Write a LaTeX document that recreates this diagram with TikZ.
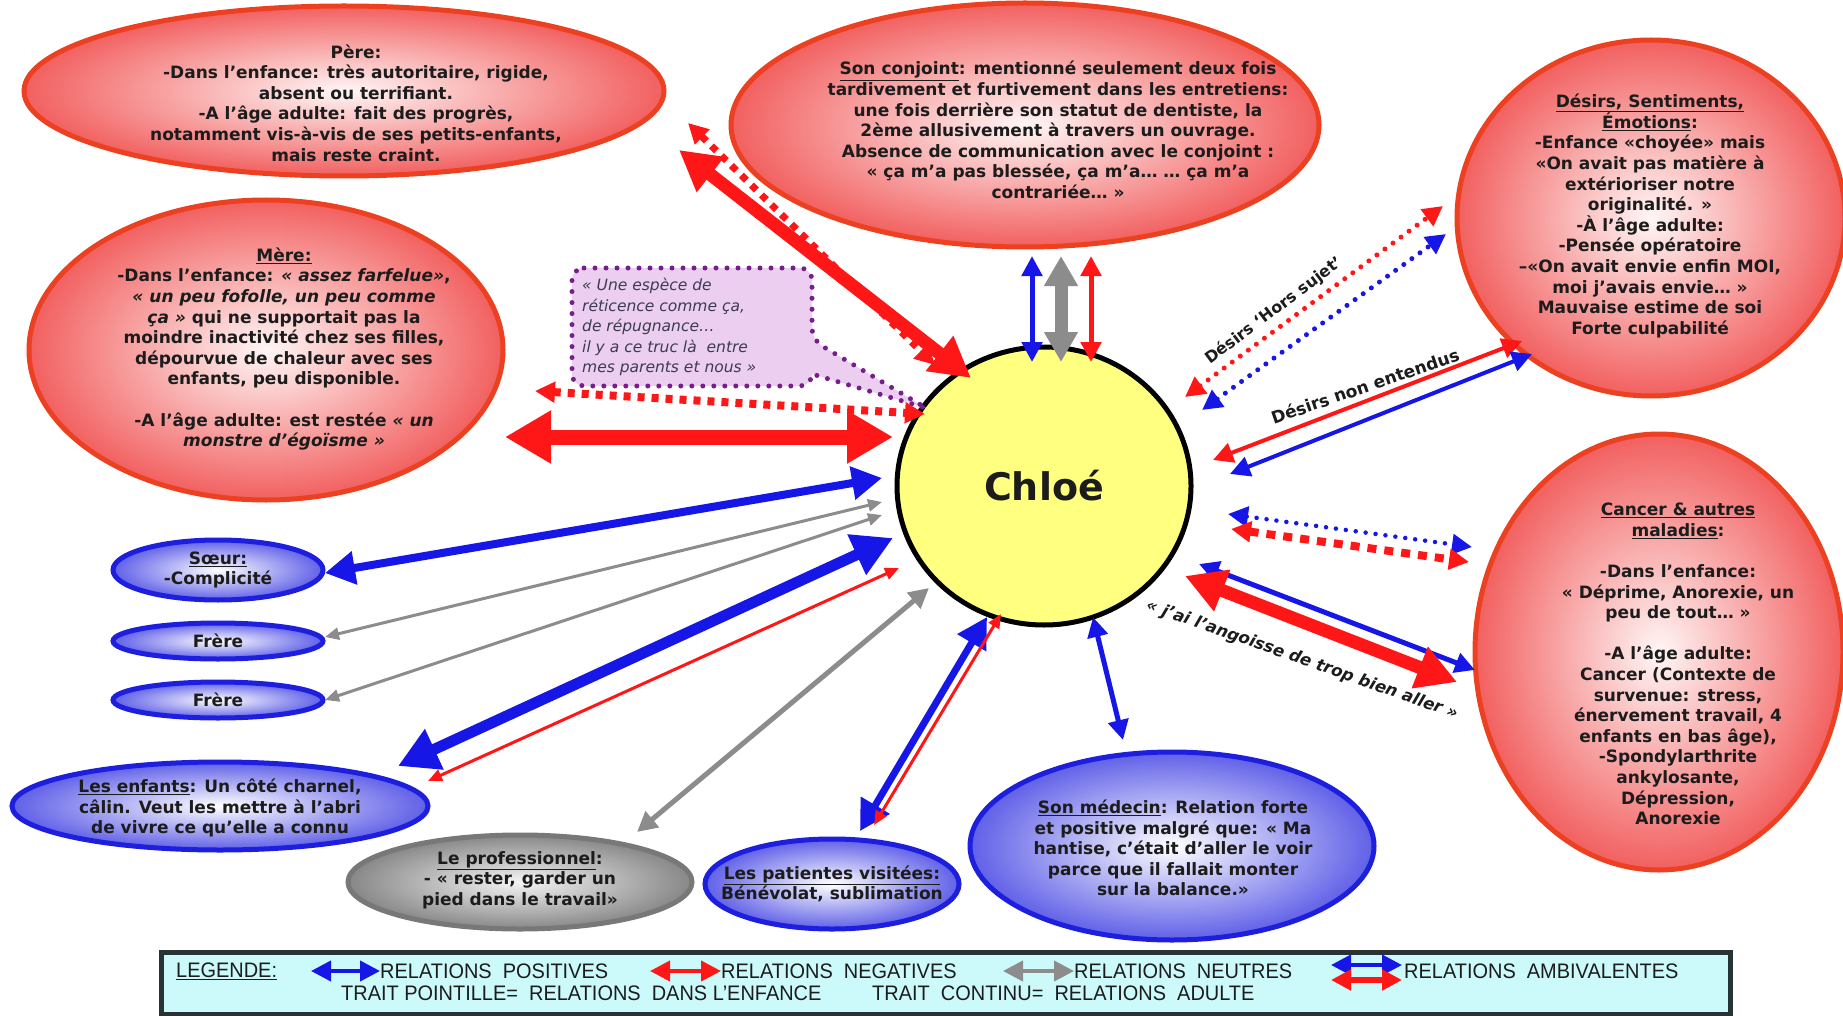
\documentclass[tikz,border=0pt]{standalone}
\usepackage{fontspec}
\setmainfont{DejaVu Sans}
\newfontfamily\legfont[FakeStretch=0.95]{Liberation Sans}
\usetikzlibrary{shapes.geometric,arrows.meta,calc}

\definecolor{arrred}{RGB}{255,22,22}
\definecolor{arrblue}{RGB}{22,22,230}
\definecolor{arrgray}{RGB}{140,140,140}
\definecolor{redborder}{RGB}{236,64,32}
\definecolor{redfill}{RGB}{242,96,96}
\definecolor{pinkfill}{RGB}{255,246,246}
\definecolor{blueborder}{RGB}{30,30,222}
\definecolor{bluefill}{RGB}{96,96,232}
\definecolor{grayborder}{RGB}{120,120,120}
\definecolor{grayfill}{RGB}{135,135,135}
\definecolor{grayin}{RGB}{245,245,245}
\definecolor{chloefill}{RGB}{255,255,128}
\definecolor{quotefill}{RGB}{236,206,240}
\definecolor{quoteborder}{RGB}{120,30,140}
\definecolor{quotetext}{RGB}{60,60,80}
\definecolor{legfill}{RGB}{204,250,250}
\definecolor{legborder}{RGB}{40,52,52}
\definecolor{txtcol}{RGB}{28,28,28}

\begin{document}
\begin{tikzpicture}[x=1pt,y=-1pt,
  ell/.style={ellipse, inner sep=0pt, line width=5pt},
  redell/.style={ell, draw=redborder, inner color=pinkfill, outer color=redfill},
  blueell/.style={ell, draw=blueborder, inner color=white, outer color=bluefill},
  grayell/.style={ell, draw=grayborder, inner color=grayin, outer color=grayfill},
  txt/.style={font=\bfseries\fontsize{17}{20.6}\selectfont, align=center, text=txtcol, inner sep=0pt},
  lbl/.style={font=\bfseries\fontsize{16}{18}\selectfont, text=txtcol, inner sep=0pt},
  legtxt/.style={font=\legfont\fontsize{21}{22}\selectfont, text=txtcol, inner sep=0pt, anchor=west},
  redarr/.style={draw=arrred},
  bluearr/.style={draw=arrblue},
  grayarr/.style={draw=arrgray},
  tXL/.style={<->, >={Triangle[length=46pt,width=50pt]}},
  tL/.style={<->, >={Triangle[length=40pt,width=42pt]}},
  tM/.style={<->, >={Triangle[length=30pt,width=32pt]}},
  tS/.style={<->, >={Triangle[length=20pt,width=20pt]}},
  tXS/.style={<->, >={Triangle[length=14pt,width=12pt]}},
  dotsq/.style={dash pattern=on 7pt off 7pt},
  dotrnd/.style={line cap=round, dash pattern=on 0pt off 10pt}
]
\useasboundingbox (0,0) rectangle (1843,1016);
\fill[white] (0,0) rectangle (1843,1016);

% ---------- ellipses ----------
\node[redell, minimum width=640pt, minimum height=170pt] (pere) at (344,91) {};
\node[redell, minimum width=588pt, minimum height=244pt] (conj) at (1025,125) {};
\node[redell, minimum width=388pt, minimum height=356pt] (desirs) at (1651,218) {};
\node[redell, minimum width=474pt, minimum height=300pt] (mere) at (266,350) {};
\node[redell, minimum width=368pt, minimum height=436pt] (cancer) at (1659,652) {};
\node[blueell, minimum width=210pt, minimum height=60pt] (soeur) at (218,570) {};
\node[blueell, minimum width=210pt, minimum height=36pt] (frere1) at (218,641) {};
\node[blueell, minimum width=210pt, minimum height=36pt] (frere2) at (218,700) {};
\node[blueell, minimum width=416pt, minimum height=88pt] (enfants) at (220,806) {};
\node[grayell, minimum width=344pt, minimum height=94pt] (prof) at (520,882) {};
\node[blueell, minimum width=254pt, minimum height=90pt] (patientes) at (832,884) {};
\node[blueell, minimum width=404pt, minimum height=188pt] (medecin) at (1172,846) {};
\node[ellipse, draw=black, line width=5pt, fill=chloefill, inner sep=0pt,
      minimum width=294pt, minimum height=278pt,
      font=\bfseries\fontsize{38}{40}\selectfont, text=txtcol] (chloe) at (1044,486) {Chloé};

% ---------- callout ----------
\path[draw=quoteborder, fill=quotefill, line width=5pt, line cap=round,
      dash pattern=on 0pt off 11pt, rounded corners=12pt]
  (572,268) -- (812,268) -- (812,340) [sharp corners] -- (926,408) -- (812,374)
  [rounded corners=12pt] -- (812,386) -- (572,386) -- cycle;
\node[font=\itshape\fontsize{15.5}{20.5}\selectfont, text=quotetext, align=left,
      inner sep=0pt, anchor=west] (quote) at (582,327)
  {« Une espèce de\\réticence comme ça,\\de répugnance…\\il y a ce truc là~ entre\\mes parents et nous »};

% ---------- connectors ----------
% Père
\draw[redarr, line width=7pt, dotsq, tS] ($(pere)+(344,32)$) -- ($(chloe)+(-109,-121)$);
\draw[redarr, line width=13pt, tL] ($(pere)+(335,59)$) -- ($(chloe)+(-73,-108)$);
% Mère
\draw[redarr, line width=8pt, dotsq, tS] ($(mere)+(269,41)$) -- ($(chloe)+(-119,-72)$);
\draw[redarr, line width=15pt, tXL] ($(mere)+(239,87)$) -- ($(chloe)+(-151,-49)$);
% Conjoint
\draw[bluearr, line width=5pt, tS] ($(conj)+(7,131)$) -- ($(chloe)+(-12,-124)$);
\draw[grayarr, line width=13pt, tM] ($(conj)+(36,131)$) -- ($(chloe)+(17,-124)$);
\draw[redarr, line width=5pt, tS] ($(conj)+(66,131)$) -- ($(chloe)+(47,-124)$);
% Désirs
\draw[redarr, line width=5pt, dotrnd, tS] ($(chloe)+(141,-89)$) -- ($(desirs)+(-208,-12)$);
\draw[bluearr, line width=5pt, dotrnd, tS] ($(chloe)+(158,-76)$) -- ($(desirs)+(-205,16)$);
\draw[redarr, line width=4pt, tS] ($(chloe)+(169,-26)$) -- ($(desirs)+(-129,123)$);
\draw[bluearr, line width=4pt, tS] ($(chloe)+(186,-12)$) -- ($(desirs)+(-119,136)$);
% Cancer
\draw[bluearr, line width=4.5pt, dotrnd, tS] ($(chloe)+(184,28)$) -- ($(cancer)+(-187,-105)$);
\draw[redarr, line width=8pt, dash pattern=on 9pt off 8pt, tS] ($(chloe)+(187,43)$) -- ($(cancer)+(-190,-90)$);
\draw[bluearr, line width=5pt, tS] ($(chloe)+(155,78)$) -- ($(cancer)+(-184,18)$);
\draw[redarr, line width=13pt, tL] ($(chloe)+(141,90)$) -- ($(cancer)+(-202,30)$);
% Médecin
\draw[bluearr, line width=5pt, tS] ($(chloe)+(49,131)$) -- ($(medecin)+(-49,-106)$);
% Patientes
\draw[bluearr, line width=7pt, tM] ($(chloe)+(-57,131)$) -- ($(patientes)+(28,-53)$);
\draw[redarr, line width=3pt, tXS] ($(chloe)+(-43,128)$) -- ($(patientes)+(42,-59)$);
% Professionnel
\draw[grayarr, line width=5pt, tS] ($(chloe)+(-115,102)$) -- ($(prof)+(117,-50)$);
% Enfants
\draw[bluearr, line width=11pt, tL] ($(chloe)+(-151,52)$) -- ($(enfants)+(178,-40)$);
\draw[redarr, line width=3pt, tXS] ($(chloe)+(-145,82)$) -- ($(enfants)+(208,-25)$);
% Frères, Soeur
\draw[grayarr, line width=3pt, tXS] ($(chloe)+(-162,29)$) -- ($(frere2)+(107,0)$);
\draw[grayarr, line width=3pt, tXS] ($(chloe)+(-162,16)$) -- ($(frere1)+(107,-4)$);
\draw[bluearr, line width=8pt, tM] ($(chloe)+(-162,-8)$) -- ($(soeur)+(107,3)$);

% ---------- arrow labels ----------
\node[lbl, rotate=37] (lblHS) at (1274,311) {Désirs ‘Hors sujet’};
\node[lbl, font=\bfseries\fontsize{17}{19}\selectfont, rotate=19] (lblNE) at (1365,386) {Désirs non entendus};
\node[lbl, font=\bfseries\itshape\fontsize{16.5}{19}\selectfont, rotate=-19.4] (lblAng) at (1302,660) {« j’ai l’angoisse de trop bien aller »};

% ---------- texts ----------
\node[txt] (pereT) at (356,103) {Père:\\-Dans l’enfance: très autoritaire, rigide,\\absent ou terrifiant.\\-A l’âge adulte: fait des progrès,\\notamment vis-à-vis de ses petits-enfants,\\mais reste craint.};
\node[txt] (conjT) at (1058,130) {\underline{Son conjoint}: mentionné seulement deux fois\\tardivement et furtivement dans les entretiens:\\une fois derrière son statut de dentiste, la\\2ème allusivement à travers un ouvrage.\\Absence de communication avec le conjoint :\\« ça m’a pas blessée, ça m’a… … ça m’a\\contrariée… »};
\node[txt] (desirsT) at (1650,216) {\underline{Désirs, Sentiments,}\\\underline{Émotions}:\\-Enfance «choyée» mais\\«On avait pas matière à\\extérioriser notre\\originalité. »\\-À l’âge adulte:\\-Pensée opératoire\\–«On avait envie enfin MOI,\\moi j’avais envie… »\\Mauvaise estime de soi\\Forte culpabilité};
\node[txt] (mereT) at (284,349) {\underline{Mère:}\\-Dans l’enfance: \textit{« assez farfelue»},\\\textit{« un peu fofolle, un peu comme}\\\textit{ça »} qui ne supportait pas la\\moindre inactivité chez ses filles,\\dépourvue de chaleur avec ses\\enfants, peu disponible.\\[20.6pt]-A l’âge adulte: est restée \textit{« un}\\\textit{monstre d’égoïsme »}};
\node[txt] (cancerT) at (1678,664) {\underline{Cancer \& autres}\\\underline{maladies}:\\[20.6pt]-Dans l’enfance:\\« Déprime, Anorexie, un\\peu de tout… »\\[20.6pt]-A l’âge adulte:\\Cancer (Contexte de\\survenue: stress,\\énervement travail, 4\\enfants en bas âge),\\-Spondylarthrite\\ankylosante,\\Dépression,\\Anorexie};
\node[txt] (soeurT) at (218,570) {\underline{Sœur:}\\-Complicité};
\node[txt] (frere1T) at (218,641) {Frère};
\node[txt] (frere2T) at (218,700) {Frère};
\node[txt] (enfantsT) at (220,808) {\underline{Les enfants}: Un côté charnel,\\câlin. Veut les mettre à l’abri\\de vivre ce qu’elle a connu};
\node[txt] (profT) at (520,880) {\underline{Le professionnel}:\\- « rester, garder un\\pied dans le travail»};
\node[txt] (patientesT) at (832,884) {\underline{Les patientes visitées:}\\Bénévolat, sublimation};
\node[txt] (medecinT) at (1173,848) {\underline{Son médecin}: Relation forte\\et positive malgré que: « Ma\\hantise, c’était d’aller le voir\\parce que il fallait monter\\sur la balance.»};

% ---------- legend ----------
\node[draw=legborder, line width=5pt, fill=legfill, inner sep=0pt, anchor=north west,
      minimum width=1569pt, minimum height=62pt] (legend) at (159,950) {};
\node[legtxt] (legT) at (176,971) {\underline{LEGENDE:}};
\node[legtxt] (legPos) at (380,971) {RELATIONS~~POSITIVES};
\node[legtxt] (legNeg) at (721,971) {RELATIONS~~NEGATIVES};
\node[legtxt] (legNeu) at (1074,971) {RELATIONS~~NEUTRES};
\node[legtxt] (legAmb) at (1404,971) {RELATIONS~~AMBIVALENTES};
\node[legtxt] (legL1) at (341,993) {TRAIT POINTILLE=~~RELATIONS~~DANS L’ENFANCE};
\node[legtxt] (legL2) at (872,993) {TRAIT~~CONTINU=~~RELATIONS~~ADULTE};
\coordinate (lgA) at (311,971);
\coordinate (lgB) at (650,971);
\coordinate (lgC) at (1003,971);
\coordinate (lgD) at (1331,965);
\coordinate (lgE) at (1331,980);
\coordinate (lgDe) at (1402,965);
\coordinate (lgEe) at (1402,980);
\draw[bluearr, line width=4pt, tS] (lgA) -- (legPos.west);
\draw[redarr, line width=4pt, tS] (lgB) -- (legNeg.west);
\draw[grayarr, line width=4pt, tS] (lgC) -- (legNeu.west);
\draw[bluearr, line width=4pt, tS] (lgD) -- (lgDe);
\draw[redarr, line width=6pt, tS] (lgE) -- (lgEe);
\end{tikzpicture}
\end{document}
